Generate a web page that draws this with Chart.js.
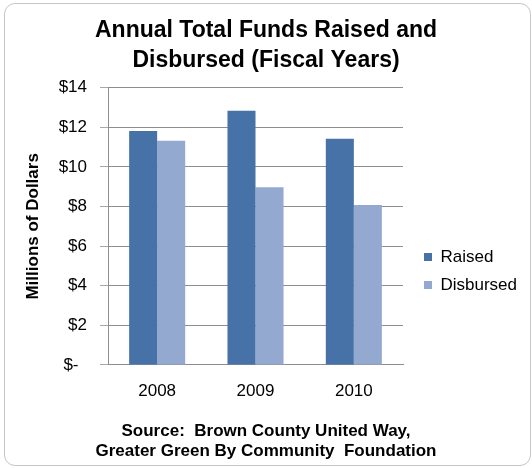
<!DOCTYPE html>
<html>
<head>
<meta charset="utf-8">
<script src="https://cdn.jsdelivr.net/npm/chart.js@4/dist/chart.umd.min.js"></script>
<style>
  html, body { margin: 0; padding: 0; background: #ffffff; }
  #frame { position: absolute; left: 4px; top: 3px; width: 527px; height: 463px;
           border: 1.5px solid #c6c6c6; border-radius: 11px; box-sizing: border-box; }
  #wrap { position: absolute; left: 0; top: 0; width: 532px; height: 468px; }
</style>
</head>
<body>
<div id="frame"></div>
<div id="wrap"><canvas id="c" width="532" height="468"></canvas></div>
<script>
const categories = ['2008', '2009', '2010'];
const raised = [11.82, 12.84, 11.42];
const disbursed = [11.32, 8.98, 8.08];
const seriesNames = ['Raised', 'Disbursed'];
const yTickValues = [0, 2, 4, 6, 8, 10, 12, 14];
const yTickLabels = ['$-\u2002', '$2', '$4', '$6', '$8', '$10', '$12', '$14'];
const titleLines = ['Annual Total Funds Raised and', 'Disbursed (Fiscal Years)'];
const sourceLines = ['Source:  Brown County United Way,', 'Greater Green By Community  Foundation'];
const yAxisTitle = 'Millions of Dollars';

Chart.defaults.font.family = "'Liberation Sans', Arial, sans-serif";
Chart.defaults.color = '#000000';

const gridGray = '#8e8e8e';

const layoutTweak = {
  id: 'layoutTweak',
  afterInit(chart) {
    const lg = chart.legend;
    const origFit = lg.fit;
    lg.fit = function () { origFit.call(this); this.width = 129; };
  },
  afterLayout(chart) {
    const lg = chart.legend;
    const pad = lg.options.labels.padding;
    const dx = 424 - pad - lg.left;
    const dy = (257 - 8.5 - pad) - lg.top;
    lg.left += dx; lg.right += dx;
    lg.top += dy; lg.bottom += dy;
  }
};

new Chart(document.getElementById('c'), {
  type: 'bar',
  data: {
    labels: categories,
    datasets: [
      { label: seriesNames[0], data: raised, backgroundColor: '#4672A8', borderWidth: 0,
        categoryPercentage: 0.57, barPercentage: 1.0 },
      { label: seriesNames[1], data: disbursed, backgroundColor: '#94A9CF', borderWidth: 0,
        categoryPercentage: 0.57, barPercentage: 1.0 }
    ]
  },
  plugins: [layoutTweak],
  options: {
    responsive: false,
    animation: false,
    devicePixelRatio: 1,
    layout: { padding: { left: 0, right: 0, top: 0, bottom: 7 } },
    plugins: {
      tooltip: { enabled: false },
      title: {
        display: true,
        text: titleLines,
        font: { size: 23, weight: 'bold', lineHeight: 1.3 },
        color: '#000',
        padding: { top: 15.5, bottom: 12.5 }
      },
      subtitle: {
        display: true,
        position: 'bottom',
        text: sourceLines,
        font: { size: 17, weight: 'bold', lineHeight: 1.18 },
        color: '#000',
        padding: { top: 20, bottom: 0 }
      },
      legend: {
        position: 'right',
        align: 'start',
        labels: {
          boxWidth: 8,
          boxHeight: 8,
          padding: 11,
          font: { size: 17 },
          color: '#000'
        }
      }
    },
    scales: {
      x: {
        afterFit(scale) { scale.height = 36; },
        grid: { display: false, drawTicks: false },
        border: { display: true, color: gridGray, width: 1 },
        ticks: { padding: 16, font: { size: 17, lineHeight: 1.2 }, color: '#000' }
      },
      y: {
        min: 0,
        max: 14,
        afterBuildTicks(scale) {
          scale.ticks = yTickValues.map(v => ({ value: v }));
        },
        afterFit(scale) { scale.width = 108; },
        grid: { color: gridGray, tickLength: 8, tickColor: '#a8a8a8', lineWidth: 1 },
        border: { display: true, color: gridGray, width: 1 },
        ticks: {
          padding: 13,
          font: { size: 17 },
          color: '#000',
          callback(value) {
            const i = yTickValues.indexOf(value);
            return i >= 0 ? yTickLabels[i] : '';
          }
        },
        title: {
          display: true,
          text: yAxisTitle,
          font: { size: 17, weight: 'bold', lineHeight: 1.2 },
          color: '#000',
          padding: { top: 23, bottom: 0 }
        }
      }
    }
  }
});
</script>
</body>
</html>
